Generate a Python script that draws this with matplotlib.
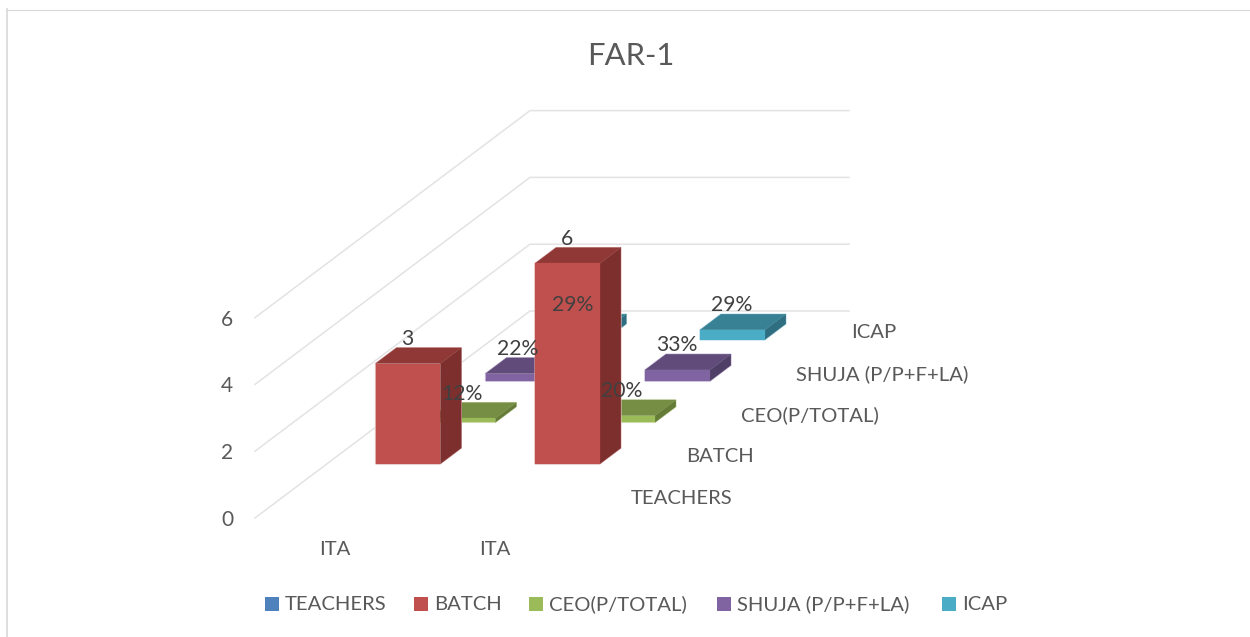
import matplotlib.pyplot as plt
from matplotlib.patches import Polygon, Rectangle

plt.rcParams['font.family'] = ['Lato', 'DejaVu Sans']

# chart data
categories = ["ITA", "ITA"]
series_names = ["TEACHERS", "BATCH", "CEO(P/TOTAL)", "SHUJA (P/P+F+LA)", "ICAP"]
teachers = [None, None]
batch = [3, 6]
ceo = [0.12, 0.20]
shuja = [0.22, 0.33]
icap = [0.29, 0.29]
value_ticks = [0, 2, 4, 6]

series_values = [teachers, batch, ceo, shuja, icap]
label_formats = ["{:.0f}", "{:.0f}", "{:.0%}", "{:.0%}", "{:.0%}"]

# colours: front, top, side
front_colors = ["#4F81BD", "#C0504D", "#9BBB59", "#8064A2", "#4BACC6"]
top_colors = ["#3E6594", "#8F3836", "#758E43", "#604B7A", "#388195"]
side_colors = ["#345478", "#7D2F2E", "#657B38", "#4F3E66", "#2F6E80"]
edge_colors = ["#A7C0DE", "#E6C1C0", "#D5E2BB", "#CDBFDC", "#BCE0EA"]
text_color = "#595959"
label_color = "#404040"

# oblique projection, in pixels of the 1250x637 picture
origin_x, origin_y = 255, 518
cat_w = 159.6
depth_dx, depth_dy = 55, 41.4
unit_h = 33.4
bar_w = 0.406
bar_d = 0.38
bar_shift = 0.007


def project(cat, depth, value):
    return (origin_x + cat_w * cat + depth_dx * depth,
            origin_y - depth_dy * depth - unit_h * value)


fig = plt.figure(figsize=(12.5, 6.37), dpi=100)
ax = fig.add_axes([0, 0, 1, 1])
ax.set_xlim(0, 1250)
ax.set_ylim(637, 0)
ax.axis("off")

# outer chart border
ax.plot([6.8, 6.8], [637, 9], color="#DCDCDC", lw=1.3)
ax.plot([6, 1250], [9.5, 9.5], color="#D9D9D9", lw=0.8)

# walls and gridlines
n_cat = len(categories)
n_ser = len(series_names)
for v in value_ticks:
    pts = [project(0, 0, v), project(0, n_ser, v), project(n_cat, n_ser, v)]
    ax.plot([p[0] for p in pts], [p[1] for p in pts], color="#E3E3E3", lw=1.1, zorder=1)
    ax.text(227, project(0, 0, v)[1] + 2, str(v), ha="center", va="center",
            fontsize=15, color=text_color)

# bars, from the back row to the front
labels = []
for s in range(n_ser - 1, -1, -1):
    for c in range(n_cat):
        val = series_values[s][c]
        if val is None:
            continue
        c0 = c + (1 - bar_w) / 2 + bar_shift
        c1 = c0 + bar_w
        d0 = s + (1 - bar_d) / 2
        d1 = d0 + bar_d
        front = [project(c0, d0, 0), project(c1, d0, 0), project(c1, d0, val), project(c0, d0, val)]
        top = [project(c0, d0, val), project(c1, d0, val), project(c1, d1, val), project(c0, d1, val)]
        side = [project(c1, d0, 0), project(c1, d1, 0), project(c1, d1, val), project(c1, d0, val)]
        outline = [project(c0, d0, 0), project(c1, d0, 0), project(c1, d1, 0),
                   project(c1, d1, val), project(c0, d1, val), project(c0, d0, val)]
        ax.add_patch(Polygon(outline, closed=True, facecolor="none", edgecolor=edge_colors[s],
                             lw=1.0, joinstyle="miter", zorder=2))
        for poly, col in ((side, side_colors[s]), (top, top_colors[s]), (front, front_colors[s])):
            ax.add_patch(Polygon(poly, closed=True, facecolor=col, edgecolor=col,
                                 lw=0.2, joinstyle="miter", zorder=2))
        x, y = project((c0 + c1) / 2, d0, val)
        labels.append((x - 0.5, y - 24.5, label_formats[s].format(val)))

# data labels sit on top of every bar
for x, y, t in labels:
    ax.text(x, y, t, ha="center", va="center", fontsize=15.2, color=label_color, zorder=5)

# category labels along the front
for c, name in enumerate(categories):
    x, _ = project(c + 0.5, 0, 0)
    ax.text(x, 549.5, name, ha="center", va="center", fontsize=14.6, color=text_color)

# series labels along the depth axis
for s, name in enumerate(series_names):
    x, y = project(n_cat, s + 0.5, 0)
    ax.text(x + 29, y + 1, name, ha="left", va="center", fontsize=14.6, color=text_color)

# legend
legend_x = [265, 414, 529, 717, 942]
for s, name in enumerate(series_names):
    ax.add_patch(Rectangle((legend_x[s], 596.7), 14, 14, facecolor=front_colors[s], edgecolor="none"))
    ax.text(legend_x[s] + 20, 604.5, name, ha="left", va="center", fontsize=14.6, color=text_color)

ax.text(631, 56, "FAR-1", ha="center", va="center", fontsize=22.3, color=text_color)

fig.savefig("out.png", dpi=100, facecolor="white")
plt.close()
